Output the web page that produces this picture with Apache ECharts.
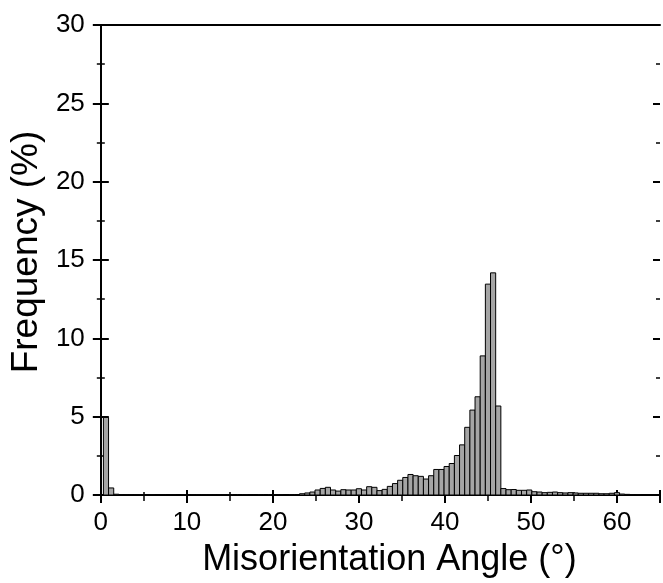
<!DOCTYPE html>
<html>
<head>
<meta charset="utf-8">
<script src="https://cdn.jsdelivr.net/npm/echarts@6/dist/echarts.min.js"></script>
<style>
html,body{margin:0;padding:0;background:#fff;}
#main{width:663px;height:583px;}
</style>
</head>
<body>
<div id="main"></div>
<script>
// bin width in degrees, first bin centred at 0.6
var binWidth = 0.6;
// frequency (%) per bin, bins centred at 0.6, 1.2, 1.8 ...
var freq = [
  4.95, 0.45, 0.05, 0.02, 0.01, 0.01, 0.01, 0.01, 0, 0.01,
  0, 0.01, 0, 0.01, 0, 0.01, 0, 0.01, 0.01, 0.01,
  0.01, 0.01, 0.02, 0.02, 0.02, 0.03, 0.03, 0.02, 0.03, 0.03,
  0.02, 0.03, 0.02, 0.02, 0.02, 0.03, 0.02, 0.03, 0.08, 0.13,
  0.19, 0.32, 0.42, 0.49, 0.32, 0.25, 0.34, 0.32, 0.32, 0.40,
  0.32, 0.53, 0.49, 0.28, 0.36, 0.55, 0.73, 0.94, 1.12, 1.31,
  1.23, 1.19, 1.02, 1.23, 1.63, 1.63, 1.82, 2.01, 2.52, 3.2,
  4.32, 5.42, 6.27, 8.88, 13.46, 14.18, 5.68, 0.41, 0.34, 0.35,
  0.30, 0.30, 0.32, 0.21, 0.19, 0.15, 0.17, 0.19, 0.15, 0.13,
  0.15, 0.13, 0.11, 0.11, 0.11, 0.11, 0.08, 0.08, 0.11, 0.15,
  0.06, 0.04, 0.02, 0.01, 0
];
var xMin = 0, xMax = 65, xStep = 10;
var yMin = 0, yMax = 30, yStep = 5;

var data = [];
for (var i = 0; i < freq.length; i++) {
  data.push([(i + 1) * binWidth, freq[i]]);
}

var font = '"Liberation Sans", Arial, sans-serif';
var myChart = echarts.init(document.getElementById('main'));

var option = {
  animation: false,
  grid: {left: 100, top: 25, width: 563, height: 472},
  xAxis: [
    {
      type: 'value', position: 'bottom', min: xMin, max: xMax, interval: xStep,
      name: 'Misorientation Angle (°)',
      nameLocation: 'middle', nameGap: 47,
      nameTextStyle: {fontSize: 36, color: '#000', fontFamily: font, padding: [0, 0, 0, 18]},
      axisLine: {show: true, onZero: false, lineStyle: {color: '#000', width: 2}},
      axisTick: {show: true, inside: true, length: 5, lineStyle: {color: '#000', width: 2}},
      minorTick: {show: true, splitNumber: 2, length: 3, lineStyle: {color: '#000', width: 1.5}},
      axisLabel: {fontSize: 26, color: '#000', fontFamily: font, margin: 15,
        formatter: function (v) { return v > 60 ? '' : v; }},
      splitLine: {show: false}
    },
    {
      type: 'value', position: 'bottom', min: xMin, max: xMax, interval: xStep,
      axisLine: {show: false, onZero: false},
      axisTick: {show: true, inside: false, length: 8, lineStyle: {color: '#000', width: 2}},
      minorTick: {show: true, splitNumber: 2, length: 6, lineStyle: {color: '#000', width: 1.5}},
      axisLabel: {show: false},
      splitLine: {show: false}
    },
    {
      type: 'value', position: 'top', min: xMin, max: xMax, interval: xStep,
      axisLine: {show: true, onZero: false, lineStyle: {color: '#000', width: 2}},
      axisTick: {show: false},
      axisLabel: {show: false},
      splitLine: {show: false}
    }
  ],
  yAxis: [
    {
      type: 'value', position: 'left', min: yMin, max: yMax, interval: yStep,
      name: 'Frequency (%)',
      nameLocation: 'middle', nameGap: 53,
      nameTextStyle: {fontSize: 37, color: '#000', fontFamily: font, padding: [0, 0, 0, 16]},
      axisLine: {show: true, onZero: false, lineStyle: {color: '#000', width: 2}},
      axisTick: {show: true, inside: true, length: 8, lineStyle: {color: '#000', width: 2}},
      minorTick: {show: true, splitNumber: 2, length: 4, lineStyle: {color: '#000', width: 1.5}},
      axisLabel: {fontSize: 26, color: '#000', fontFamily: font, margin: 16},
      splitLine: {show: false}
    },
    {
      type: 'value', position: 'left', min: yMin, max: yMax, interval: yStep,
      axisLine: {show: false, onZero: false},
      axisTick: {show: true, inside: false, length: 8, lineStyle: {color: '#000', width: 2}},
      minorTick: {show: true, splitNumber: 2, length: 4, lineStyle: {color: '#000', width: 1.5}},
      axisLabel: {show: false},
      splitLine: {show: false}
    },
    {
      type: 'value', position: 'right', min: yMin, max: yMax, interval: yStep,
      axisLine: {show: false, onZero: false},
      axisTick: {show: true, inside: true, length: 7, lineStyle: {color: '#000', width: 2}},
      minorTick: {show: true, splitNumber: 2, length: 4, lineStyle: {color: '#000', width: 1.5}},
      axisLabel: {show: false},
      splitLine: {show: false}
    }
  ],
  series: [
    {
      type: 'custom',
      xAxisIndex: 0,
      yAxisIndex: 0,
      clip: true,
      data: data,
      renderItem: function (params, api) {
        var x = api.value(0), v = api.value(1);
        if (!v) return null;
        var p0 = api.coord([x - binWidth / 2, v]);
        var p1 = api.coord([x + binWidth / 2, 0]);
        return {
          type: 'rect',
          shape: {x: p0[0], y: p0[1], width: p1[0] - p0[0], height: p1[1] - p0[1]},
          style: {fill: '#a5a5a5', stroke: '#000', lineWidth: 1}
        };
      }
    }
  ]
};
myChart.setOption(option);
</script>
</body>
</html>
